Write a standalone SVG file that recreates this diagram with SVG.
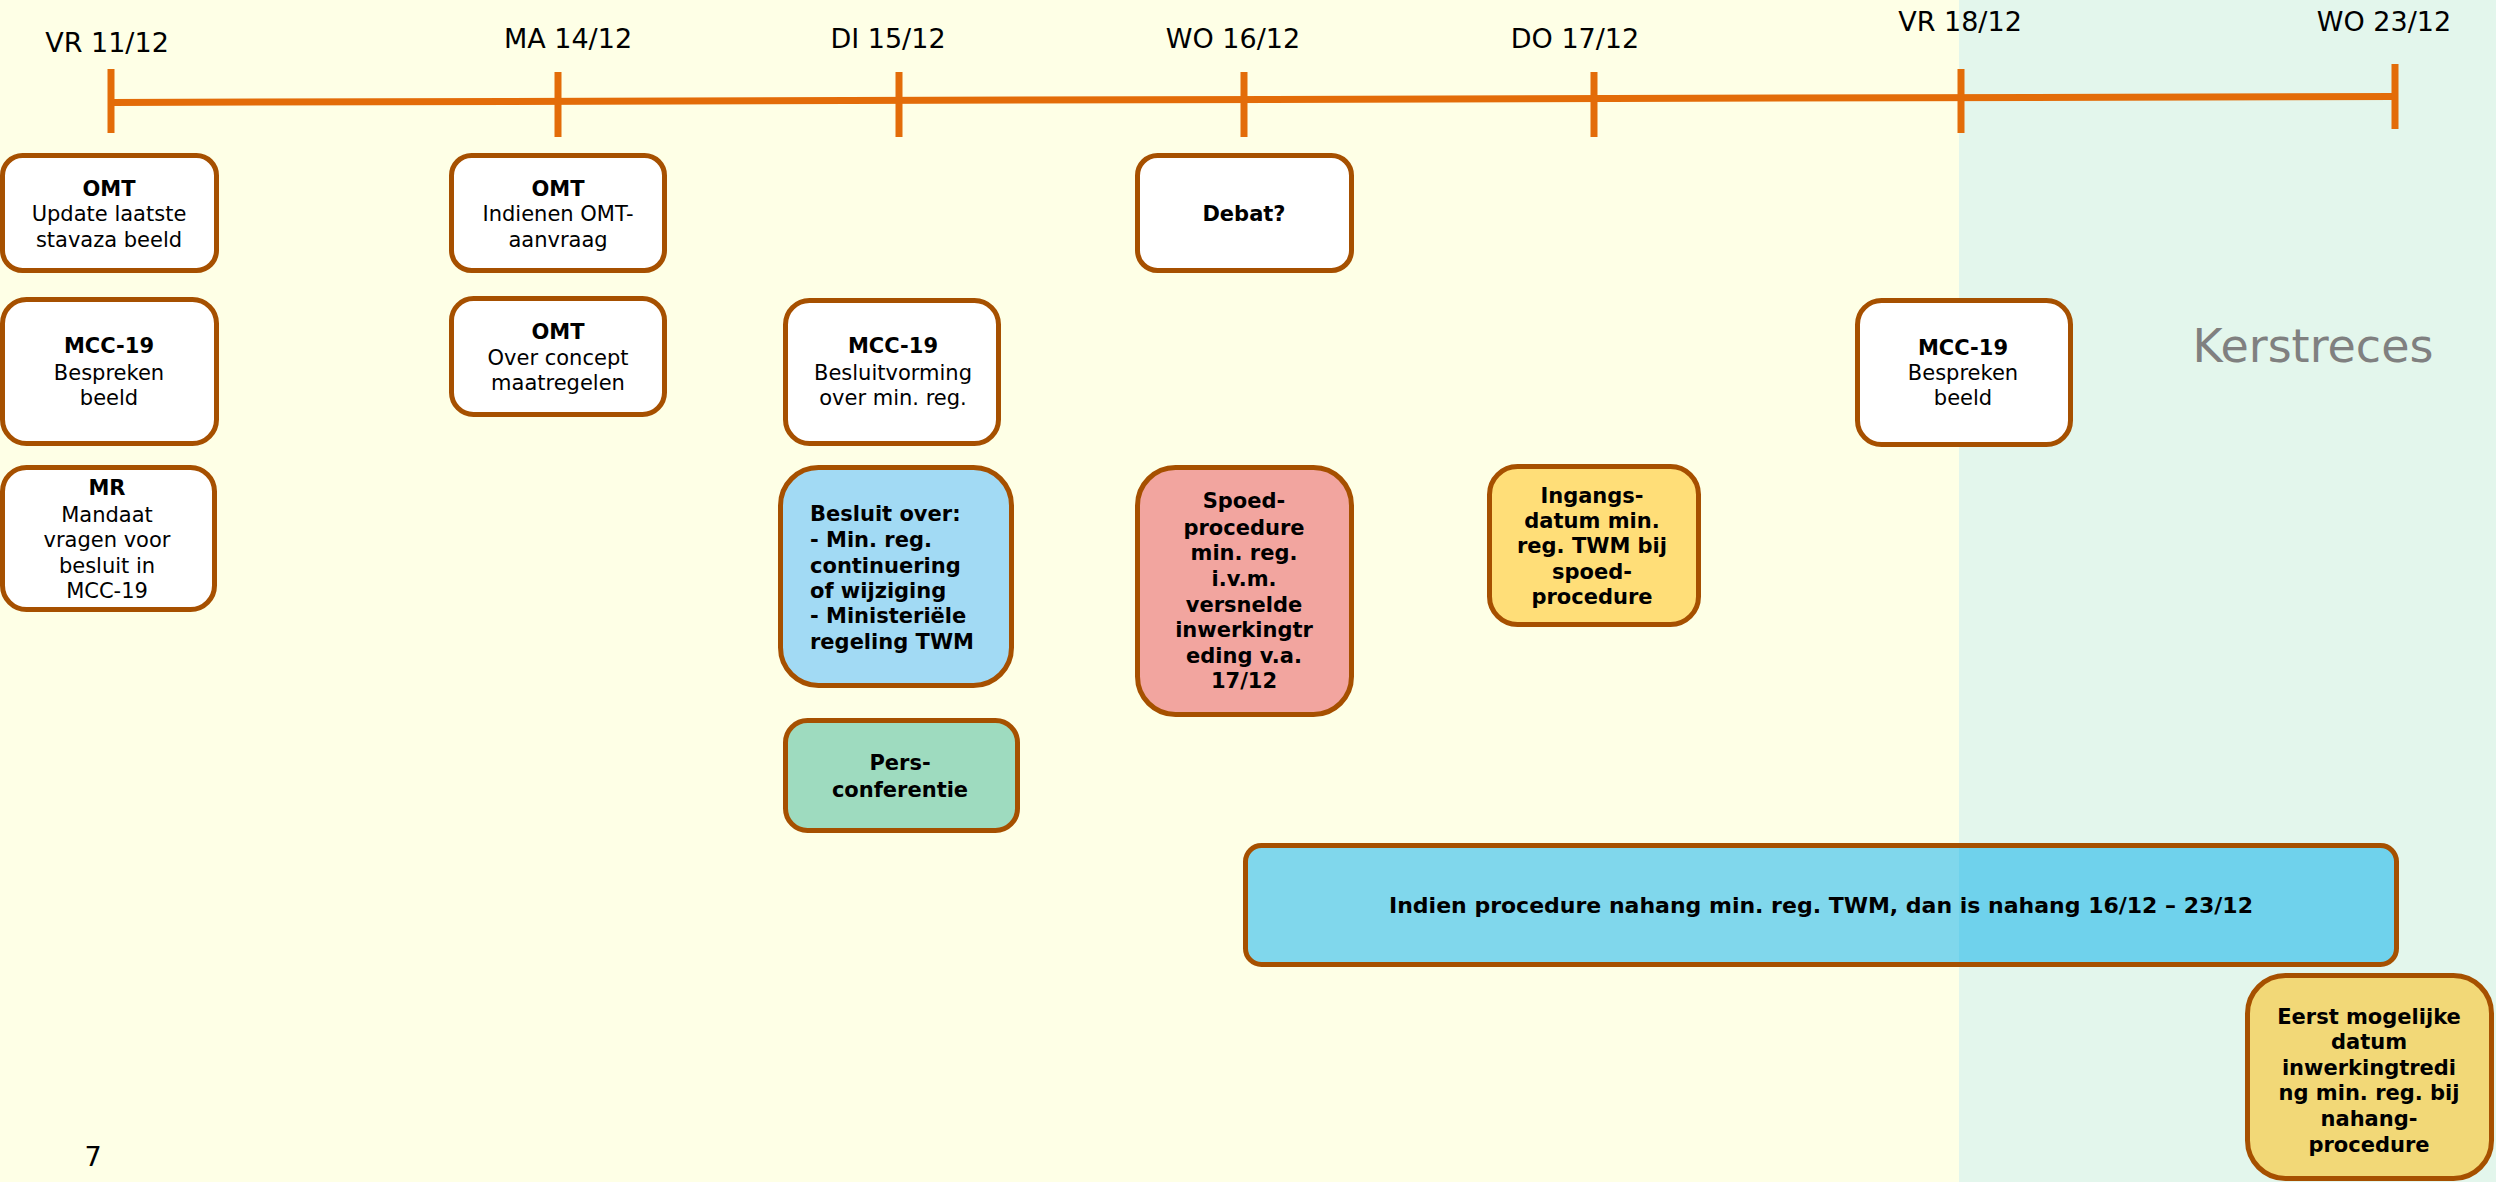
<svg xmlns="http://www.w3.org/2000/svg" width="2496" height="1182" viewBox="0 0 2496 1182">
<style>
.t{font-family:"DejaVu Sans","Liberation Sans",sans-serif;font-size:21px;fill:#000;text-anchor:middle}
.b{font-weight:bold}
.l{text-anchor:start}
.d{font-family:"DejaVu Sans","Liberation Sans",sans-serif;font-size:27px;fill:#000;text-anchor:middle}
.box{stroke:#A65000;stroke-width:5}
.tick{stroke:#E36C09;stroke-width:7;fill:none}
</style>
<defs>
<linearGradient id="g1" gradientUnits="userSpaceOnUse" x1="0" y1="0" x2="2496" y2="0">
<stop offset="0.7849" stop-color="#80D7EC"/>
<stop offset="0.7849" stop-color="#6FD2EC"/>
</linearGradient>
</defs>
<rect x="0" y="0" width="2496" height="1182" fill="#FEFFE6"/>
<rect x="1959" y="0" width="537" height="1182" fill="#E3F6EC"/>

<g id="timeline">
<line class="tick" x1="111" y1="102.5" x2="2395" y2="96.5"/>
<line class="tick" x1="111" y1="69" x2="111" y2="133"/>
<line class="tick" x1="558" y1="72" x2="558" y2="137"/>
<line class="tick" x1="899" y1="72" x2="899" y2="137"/>
<line class="tick" x1="1244" y1="72" x2="1244" y2="137"/>
<line class="tick" x1="1594" y1="72" x2="1594" y2="137"/>
<line class="tick" x1="1961" y1="69" x2="1961" y2="133"/>
<line class="tick" x1="2395" y1="64" x2="2395" y2="129"/>
<text class="d" x="107" y="52">VR 11/12</text>
<text class="d" x="568" y="48">MA 14/12</text>
<text class="d" x="888" y="48">DI 15/12</text>
<text class="d" x="1233" y="48">WO 16/12</text>
<text class="d" x="1575" y="48">DO 17/12</text>
<text class="d" x="1960" y="31">VR 18/12</text>
<text class="d" x="2384" y="31">WO 23/12</text>
</g>

<g id="connectors"></g>

<g id="omt-update">
<rect class="box" x="2.5" y="155.5" width="214" height="115" rx="20" fill="#FFFFFF"/>
<text class="t b" x="109" y="196">OMT</text>
<text class="t" x="109" y="221">Update laatste</text>
<text class="t" x="109" y="247">stavaza beeld</text>
</g>

<g id="mcc19-bespreken-1">
<rect class="box" x="2.5" y="299.5" width="214" height="144" rx="24" fill="#FFFFFF"/>
<text class="t b" x="109" y="353">MCC-19</text>
<text class="t" x="109" y="380">Bespreken</text>
<text class="t" x="109" y="405">beeld</text>
</g>

<g id="mr-mandaat">
<rect class="box" x="2.5" y="467.5" width="212" height="142" rx="24" fill="#FFFFFF"/>
<text class="t b" x="107" y="495">MR</text>
<text class="t" x="107" y="522">Mandaat</text>
<text class="t" x="107" y="547">vragen voor</text>
<text class="t" x="107" y="573">besluit in</text>
<text class="t" x="107" y="598">MCC-19</text>
</g>

<g id="omt-indienen">
<rect class="box" x="451.5" y="155.5" width="213" height="115" rx="20" fill="#FFFFFF"/>
<text class="t b" x="558" y="196">OMT</text>
<text class="t" x="558" y="221">Indienen OMT-</text>
<text class="t" x="558" y="247">aanvraag</text>
</g>

<g id="omt-concept">
<rect class="box" x="451.5" y="298.5" width="213" height="116" rx="22" fill="#FFFFFF"/>
<text class="t b" x="558" y="339">OMT</text>
<text class="t" x="558" y="365">Over concept</text>
<text class="t" x="558" y="390">maatregelen</text>
</g>

<g id="mcc19-besluitvorming">
<rect class="box" x="785.5" y="300.5" width="213" height="143" rx="24" fill="#FFFFFF"/>
<text class="t b" x="893" y="353">MCC-19</text>
<text class="t" x="893" y="380">Besluitvorming</text>
<text class="t" x="893" y="405">over min. reg.</text>
</g>

<g id="besluit-over">
<rect class="box" x="780.5" y="467.5" width="231" height="218" rx="38" fill="#A2DAF4"/>
<text class="t b l" x="810" y="521">Besluit over:</text>
<text class="t b l" x="810" y="547">- Min. reg.</text>
<text class="t b l" x="810" y="573">continuering</text>
<text class="t b l" x="810" y="598">of wijziging</text>
<text class="t b l" x="810" y="623">- Ministeriële</text>
<text class="t b l" x="810" y="649">regeling TWM</text>
</g>

<g id="persconferentie">
<rect class="box" x="785.5" y="720.5" width="232" height="110" rx="22" fill="#9EDBBF"/>
<text class="t b" x="900" y="770">Pers-</text>
<text class="t b" x="900" y="797">conferentie</text>
</g>

<g id="debat">
<rect class="box" x="1137.5" y="155.5" width="214" height="115" rx="20" fill="#FFFFFF"/>
<text class="t b" x="1244" y="221">Debat?</text>
</g>

<g id="spoedprocedure">
<rect class="box" x="1137.5" y="467.5" width="214" height="247" rx="38" fill="#F2A59F"/>
<text class="t b" x="1244" y="508">Spoed-</text>
<text class="t b" x="1244" y="535">procedure</text>
<text class="t b" x="1244" y="560">min. reg.</text>
<text class="t b" x="1244" y="586">i.v.m.</text>
<text class="t b" x="1244" y="612">versnelde</text>
<text class="t b" x="1244" y="637">inwerkingtr</text>
<text class="t b" x="1244" y="663">eding v.a.</text>
<text class="t b" x="1244" y="688">17/12</text>
</g>

<g id="ingangsdatum">
<rect class="box" x="1489.5" y="466.5" width="209" height="158" rx="28" fill="#FFDE78"/>
<text class="t b" x="1592" y="503">Ingangs-</text>
<text class="t b" x="1592" y="528">datum min.</text>
<text class="t b" x="1592" y="553">reg. TWM bij</text>
<text class="t b" x="1592" y="579">spoed-</text>
<text class="t b" x="1592" y="604">procedure</text>
</g>

<g id="mcc19-bespreken-2">
<rect class="box" x="1857.5" y="300.5" width="213" height="144" rx="24" fill="#FFFFFF"/>
<text class="t b" x="1963" y="355">MCC-19</text>
<text class="t" x="1963" y="380">Bespreken</text>
<text class="t" x="1963" y="405">beeld</text>
</g>

<g id="kerstreces">
<text x="2313" y="362" font-family="'DejaVu Sans','Liberation Sans',sans-serif" font-size="46" fill="#808080" text-anchor="middle">Kerstreces</text>
</g>

<g id="nahang">
<rect class="box" x="1245.5" y="845.5" width="1151" height="119" rx="16" fill="url(#g1)"/>
<text class="t b" x="1821" y="913" style="font-size:22px">Indien procedure nahang min. reg. TWM, dan is nahang 16/12 – 23/12</text>
</g>

<g id="eerst-mogelijke">
<rect class="box" x="2247.5" y="975.5" width="244" height="203" rx="38" fill="#F2D877"/>
<text class="t b" x="2369" y="1024">Eerst mogelijke</text>
<text class="t b" x="2369" y="1049">datum</text>
<text class="t b" x="2369" y="1075">inwerkingtredi</text>
<text class="t b" x="2369" y="1100">ng min. reg. bij</text>
<text class="t b" x="2369" y="1126">nahang-</text>
<text class="t b" x="2369" y="1152">procedure</text>
</g>

<g id="page-number">
<text class="d" x="93" y="1166">7</text>
</g>
</svg>
